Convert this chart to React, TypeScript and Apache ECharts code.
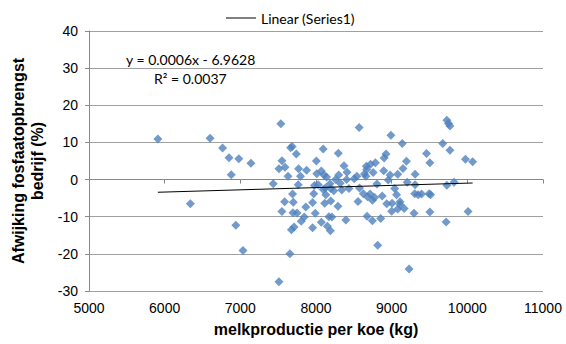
import React, { useEffect, useRef } from "react";
import * as echarts from "echarts";

// melkproductie per koe (kg)
const milkProduction: number[] = [
  5910, 6340, 6600, 6765, 6850, 6880, 6980, 6940, 7035, 7140,
  7435, 7510, 7535, 7510, 7550, 7590, 7550, 7585, 7630, 7665,
  7685, 7655, 7690, 7700, 7675, 7710, 7695, 7740, 7750, 7765,
  7770, 7795, 7805, 7845, 7875, 7865, 7955, 7955, 7970, 8005,
  7990, 8010, 7980, 8070, 8030, 8070, 8095, 8105, 8095, 8115,
  8130, 8125, 8150, 8170, 8190, 8195, 8195, 8210, 8235, 8260,
  8295, 8290, 8300, 8320, 8340, 8370, 8395, 8410, 8435, 8505,
  8540, 8555, 8570, 8575, 8640, 8665, 8675, 8680, 8720, 8715,
  8745, 8755, 8775, 8785, 8805, 8815, 8855, 8875, 8895, 8900,
  8925, 8955, 8980, 8990, 9005, 9000, 9040, 9065, 9080, 9110,
  9140, 9150, 9165, 9195, 9205, 9230, 9295, 9310, 9310, 9305,
  9350, 9395, 9460, 9495, 9505, 9505, 9515, 9675, 9730, 9720,
  9730, 9750, 9770, 9770, 9825, 9975, 10010, 10070,
  8140, 8185, 8405, 8660, 9080, 8625, 8745, 8935, 9110, 8670,
];

// Afwijking fosfaatopbrengst bedrijf (%)
const deviation: number[] = [
  10.9, -6.5, 11.1, 8.5, 5.9, 1.3, 5.6, -12.3, -19.1, 4.4,
  -1.1, 2.9, 15.0, -27.5, 5.1, 3.3, -8.6, -6.0, 0.9, 8.6,
  8.9, -20.0, -3.9, -6.1, -13.5, -12.8, -8.9, 6.9, -9.0, -1.4,
  2.9, 0.9, -11.2, -10.1, 2.5, -7.4, -13.0, -6.2, -3.8, 5.0,
  -9.1, 1.6, -1.6, -11.5, -1.4, 2.3, 8.2, 1.2, -2.7, -6.4,
  -4.1, -2.3, -12.6, -10.0, -13.8, -5.8, -2.4, -10.1, -3.0, 0.0,
  7.1, -7.2, 1.2, -1.0, -2.8, 3.7, -10.9, 2.0, -2.4, 0.2,
  0.9, -5.9, 14.0, -2.3, 1.5, 3.6, -9.9, -4.6, 4.1, -3.9,
  -11.1, 1.9, -4.8, 4.5, -1.2, -17.7, -10.5, -4.4, 2.4, 5.8,
  6.9, -0.1, 1.2, 11.9, -6.4, -8.5, -2.4, -4.1, -7.9, -6.7,
  9.7, 3.0, -7.8, 4.9, -0.7, -24.1, -9.1, 1.4, -1.4, -3.8,
  -4.1, -3.9, 7.0, -3.8, 4.5, -8.7, -4.1, 9.7, -1.5, -11.4,
  16.0, 15.1, 14.4, 7.9, -0.7, 5.5, -8.6, 4.8,
  0.7, -1.1, 0.0, 0.9, 1.4, -3.8, -5.6, -6.5, -6.0, 2.7,
];

// Linear trendline as reported by the spreadsheet
const trendSlope = 0.0006;
const trendIntercept = -6.9628;
const trendLabel = "Linear (Series1)";
const equationText = "y = 0.0006x - 6.9628";
const rSquaredText = "R² = 0.0037";

const xTicks = { min: 5000, max: 11000, interval: 1000 };
const yTicks = { min: -30, max: 40, interval: 10 };

const xTitle = "melkproductie per koe (kg)";
const yTitle = "Afwijking fosfaatopbrengst\nbedrijf (%)";

export default function App() {
  const ref = useRef<HTMLDivElement>(null);

  useEffect(() => {
    document.body.style.margin = "0";
    if (!ref.current) return;
    const chart = echarts.init(ref.current, undefined, { renderer: "svg" });

    const points = milkProduction.map((x, i) => [x, deviation[i]]);
    const xMin = Math.min(...milkProduction);
    const xMax = Math.max(...milkProduction);
    const trend = [
      [xMin, trendSlope * xMin + trendIntercept],
      [xMax, trendSlope * xMax + trendIntercept],
    ];

    const gridColor = "#A0A0A0";
    const axisColor = "#888888";
    const numFont = "'Liberation Sans', Arial, sans-serif";
    const calFont = "Lato, 'Open Sans', sans-serif";

    chart.setOption({
      animation: false,
      backgroundColor: "#ffffff",
      grid: { left: 89, right: 23, top: 31, bottom: 53 },
      legend: {
        data: [{ name: trendLabel, icon: "rect" }],
        left: 221,
        top: 6,
        itemWidth: 30,
        itemHeight: 1,
        itemGap: 5,
        itemStyle: { color: "#000" },
        textStyle: { fontFamily: calFont, fontSize: 14, color: "#000" },
      },
      graphic: [
        {
          type: "text",
          left: 126,
          top: 52,
          style: {
            text: equationText,
            fontFamily: calFont,
            fontSize: 14,
            fill: "#000",
          },
        },
        {
          type: "text",
          left: 154,
          top: 71,
          style: {
            text: rSquaredText,
            fontFamily: calFont,
            fontSize: 14,
            fill: "#000",
          },
        },
      ],
      xAxis: [
        {
          type: "value",
          position: "bottom",
          min: xTicks.min,
          max: xTicks.max,
          interval: xTicks.interval,
          axisLine: { show: false, onZero: false },
          axisTick: { show: false },
          splitLine: { show: false },
          axisLabel: {
            color: "#000",
            fontSize: 14,
            fontFamily: numFont,
            margin: 10,
            formatter: (v: number) => String(v),
          },
          name: xTitle,
          nameLocation: "middle",
          nameGap: 30,
          nameTextStyle: {
            color: "#000",
            fontSize: 16,
            fontWeight: "bold",
            fontFamily: numFont,
          },
        },
        {
          type: "value",
          position: "bottom",
          min: xTicks.min,
          max: xTicks.max,
          interval: xTicks.interval,
          axisLine: { show: true, onZero: true, lineStyle: { color: axisColor, width: 1 } },
          axisTick: { show: true, length: 4, lineStyle: { color: axisColor } },
          axisLabel: { show: false },
          splitLine: { show: false },
        },
      ],
      yAxis: {
        type: "value",
        min: yTicks.min,
        max: yTicks.max,
        interval: yTicks.interval,
        axisLine: { show: true, onZero: false, lineStyle: { color: axisColor, width: 1 } },
        axisTick: { show: true, length: 4, lineStyle: { color: axisColor } },
        splitLine: { show: true, lineStyle: { color: gridColor, width: 1 } },
        axisLabel: {
          color: "#000",
          fontSize: 14,
          fontFamily: numFont,
          margin: 11,
        },
        name: yTitle,
        nameLocation: "middle",
        nameGap: 42,
        nameRotate: 90,
        nameTextStyle: {
          color: "#000",
          fontSize: 16,
          fontWeight: "bold",
          fontFamily: numFont,
          lineHeight: 19,
          align: "center",
        },
      },
      series: [
        {
          name: "Series1",
          type: "scatter",
          xAxisIndex: 0,
          symbol: "diamond",
          symbolSize: 9,
          itemStyle: { color: "#4F81BD" },
          data: points,
          z: 3,
        },
        {
          name: trendLabel,
          type: "line",
          xAxisIndex: 0,
          data: trend,
          symbol: "none",
          showSymbol: false,
          lineStyle: { color: "#000", width: 1 },
          itemStyle: { color: "#000" },
          z: 4,
        },
      ],
    });

    return () => chart.dispose();
  }, []);

  return <div ref={ref} style={{ width: 566, height: 344 }} />;
}
